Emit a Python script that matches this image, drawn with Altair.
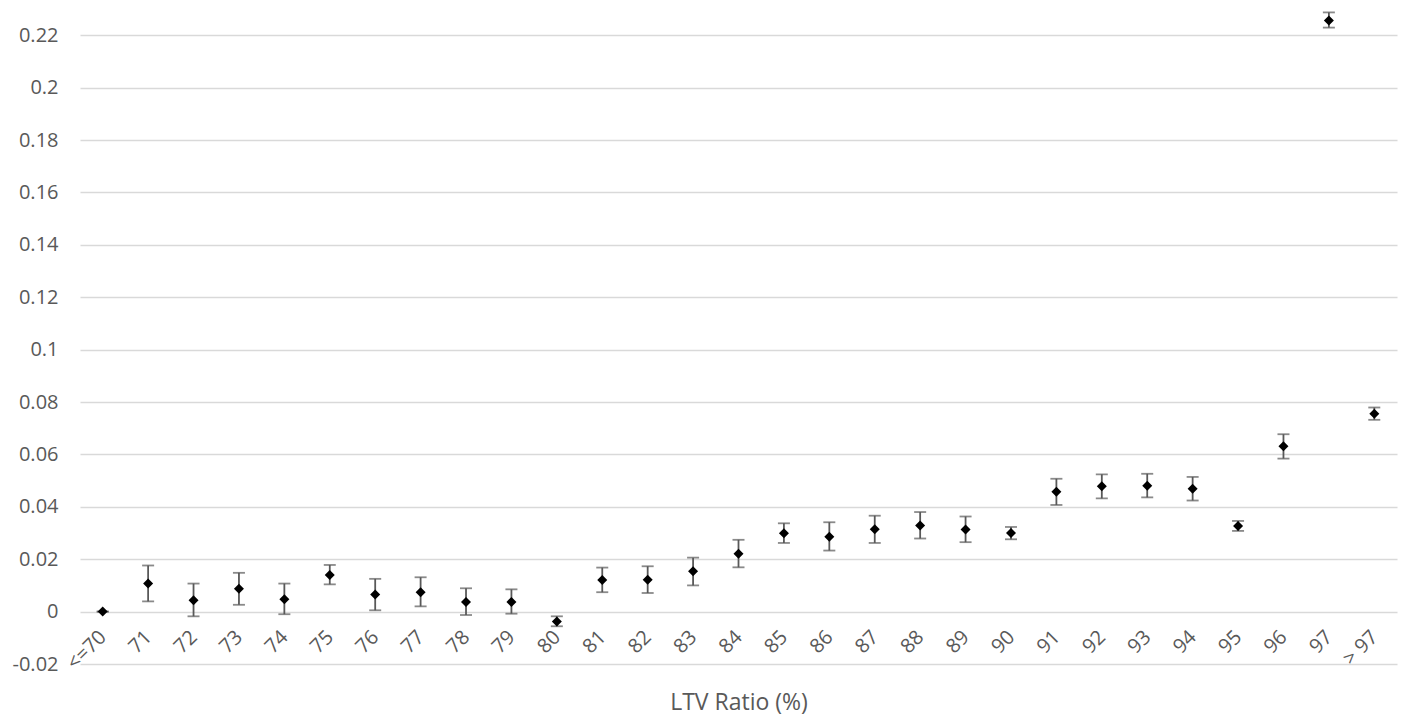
import altair as alt
import pandas as pd

categories = ["<=70"] + [str(v) for v in range(71, 98)] + ["> 97"]
values = [0.0, 0.0107, 0.0043, 0.0087, 0.0047, 0.0140, 0.0065, 0.0074, 0.0037, 0.0037,
          -0.0038, 0.0121, 0.0122, 0.0154, 0.0221, 0.0299, 0.0286, 0.0314, 0.0329, 0.0313,
          0.0300, 0.0457, 0.0478, 0.0480, 0.0469, 0.0327, 0.0631, 0.2256, 0.0755]
upper = [0.0, 0.0176, 0.0107, 0.0148, 0.0107, 0.0178, 0.0125, 0.0131, 0.0089, 0.0085,
         -0.0018, 0.0168, 0.0173, 0.0206, 0.0274, 0.0337, 0.0341, 0.0366, 0.0380, 0.0363,
         0.0323, 0.0507, 0.0524, 0.0526, 0.0514, 0.0346, 0.0677, 0.2287, 0.0779]
lower = [0.0, 0.0039, -0.0018, 0.0026, -0.0010, 0.0104, 0.0005, 0.0020, -0.0013, -0.0008,
         -0.0056, 0.0074, 0.0071, 0.0100, 0.0169, 0.0262, 0.0233, 0.0262, 0.0279, 0.0265,
         0.0276, 0.0407, 0.0432, 0.0436, 0.0424, 0.0308, 0.0584, 0.2229, 0.0732]
y_ticks = [-0.02, 0.0, 0.02, 0.04, 0.06, 0.08, 0.10, 0.12, 0.14, 0.16, 0.18, 0.20, 0.22]

df = pd.DataFrame({"cat": categories, "val": values, "lo": lower, "hi": upper})

FONT = "Open Sans"
TXT = "#595959"
W, H = 1317, 655

x_enc = alt.X(
    "cat:N",
    sort=categories,
    scale=alt.Scale(type="point", padding=0.5),
    axis=alt.Axis(
        title="LTV Ratio (%)",
        labelAngle=-45,
        labelAlign="right",
        labelBaseline="middle",
        labelPadding=22,
        labelFontSize=20,
        labelColor=TXT,
        labelFont=FONT,
        ticks=False,
        domain=False,
        grid=False,
        offset=-52.4,
        titleFont=FONT,
        titleFontSize=23,
        titleFontWeight="normal",
        titleColor=TXT,
        titleY=91,
        titleBaseline="middle",
        labelOverlap=False,
    ),
)
y_scale = alt.Scale(domain=[-0.02, 0.23], nice=False, zero=False)
y_axis = alt.Axis(
    title=None,
    values=y_ticks,
    labelExpr="replace(format(datum.value, '.2~f'), '\u2212', '-')",
    labelFontSize=20,
    labelFont=FONT,
    labelColor=TXT,
    labelPadding=22,
    ticks=False,
    domain=False,
    grid=True,
    gridColor="#d9d9d9",
    gridWidth=1.5,
)

base = alt.Chart(df)

rules = base.mark_rule(color="#595959", strokeWidth=1.8).encode(
    x=x_enc,
    y=alt.Y("lo:Q", scale=y_scale, axis=y_axis),
    y2="hi:Q",
)
caps_hi = base.mark_tick(color="#595959", size=12, thickness=1.8, orient="horizontal").encode(
    x=alt.X("cat:N", sort=categories), y=alt.Y("hi:Q")
)
caps_lo = base.mark_tick(color="#595959", size=12, thickness=1.8, orient="horizontal").encode(
    x=alt.X("cat:N", sort=categories), y=alt.Y("lo:Q")
)
points = base.mark_point(shape="diamond", filled=True, color="black", size=100, opacity=1).encode(
    x=alt.X("cat:N", sort=categories), y=alt.Y("val:Q")
)

chart = (
    alt.layer(rules, caps_hi, caps_lo, points)
    .properties(
        width=W,
        height=H,
        autosize=alt.AutoSizeParams(type="none"),
        padding={"left": 80, "top": 9, "right": 13, "bottom": 52},
        background="white",
    )
    .configure_view(stroke=None)
)

chart.save("out.html", embed_options={"renderer": "svg", "actions": False})
